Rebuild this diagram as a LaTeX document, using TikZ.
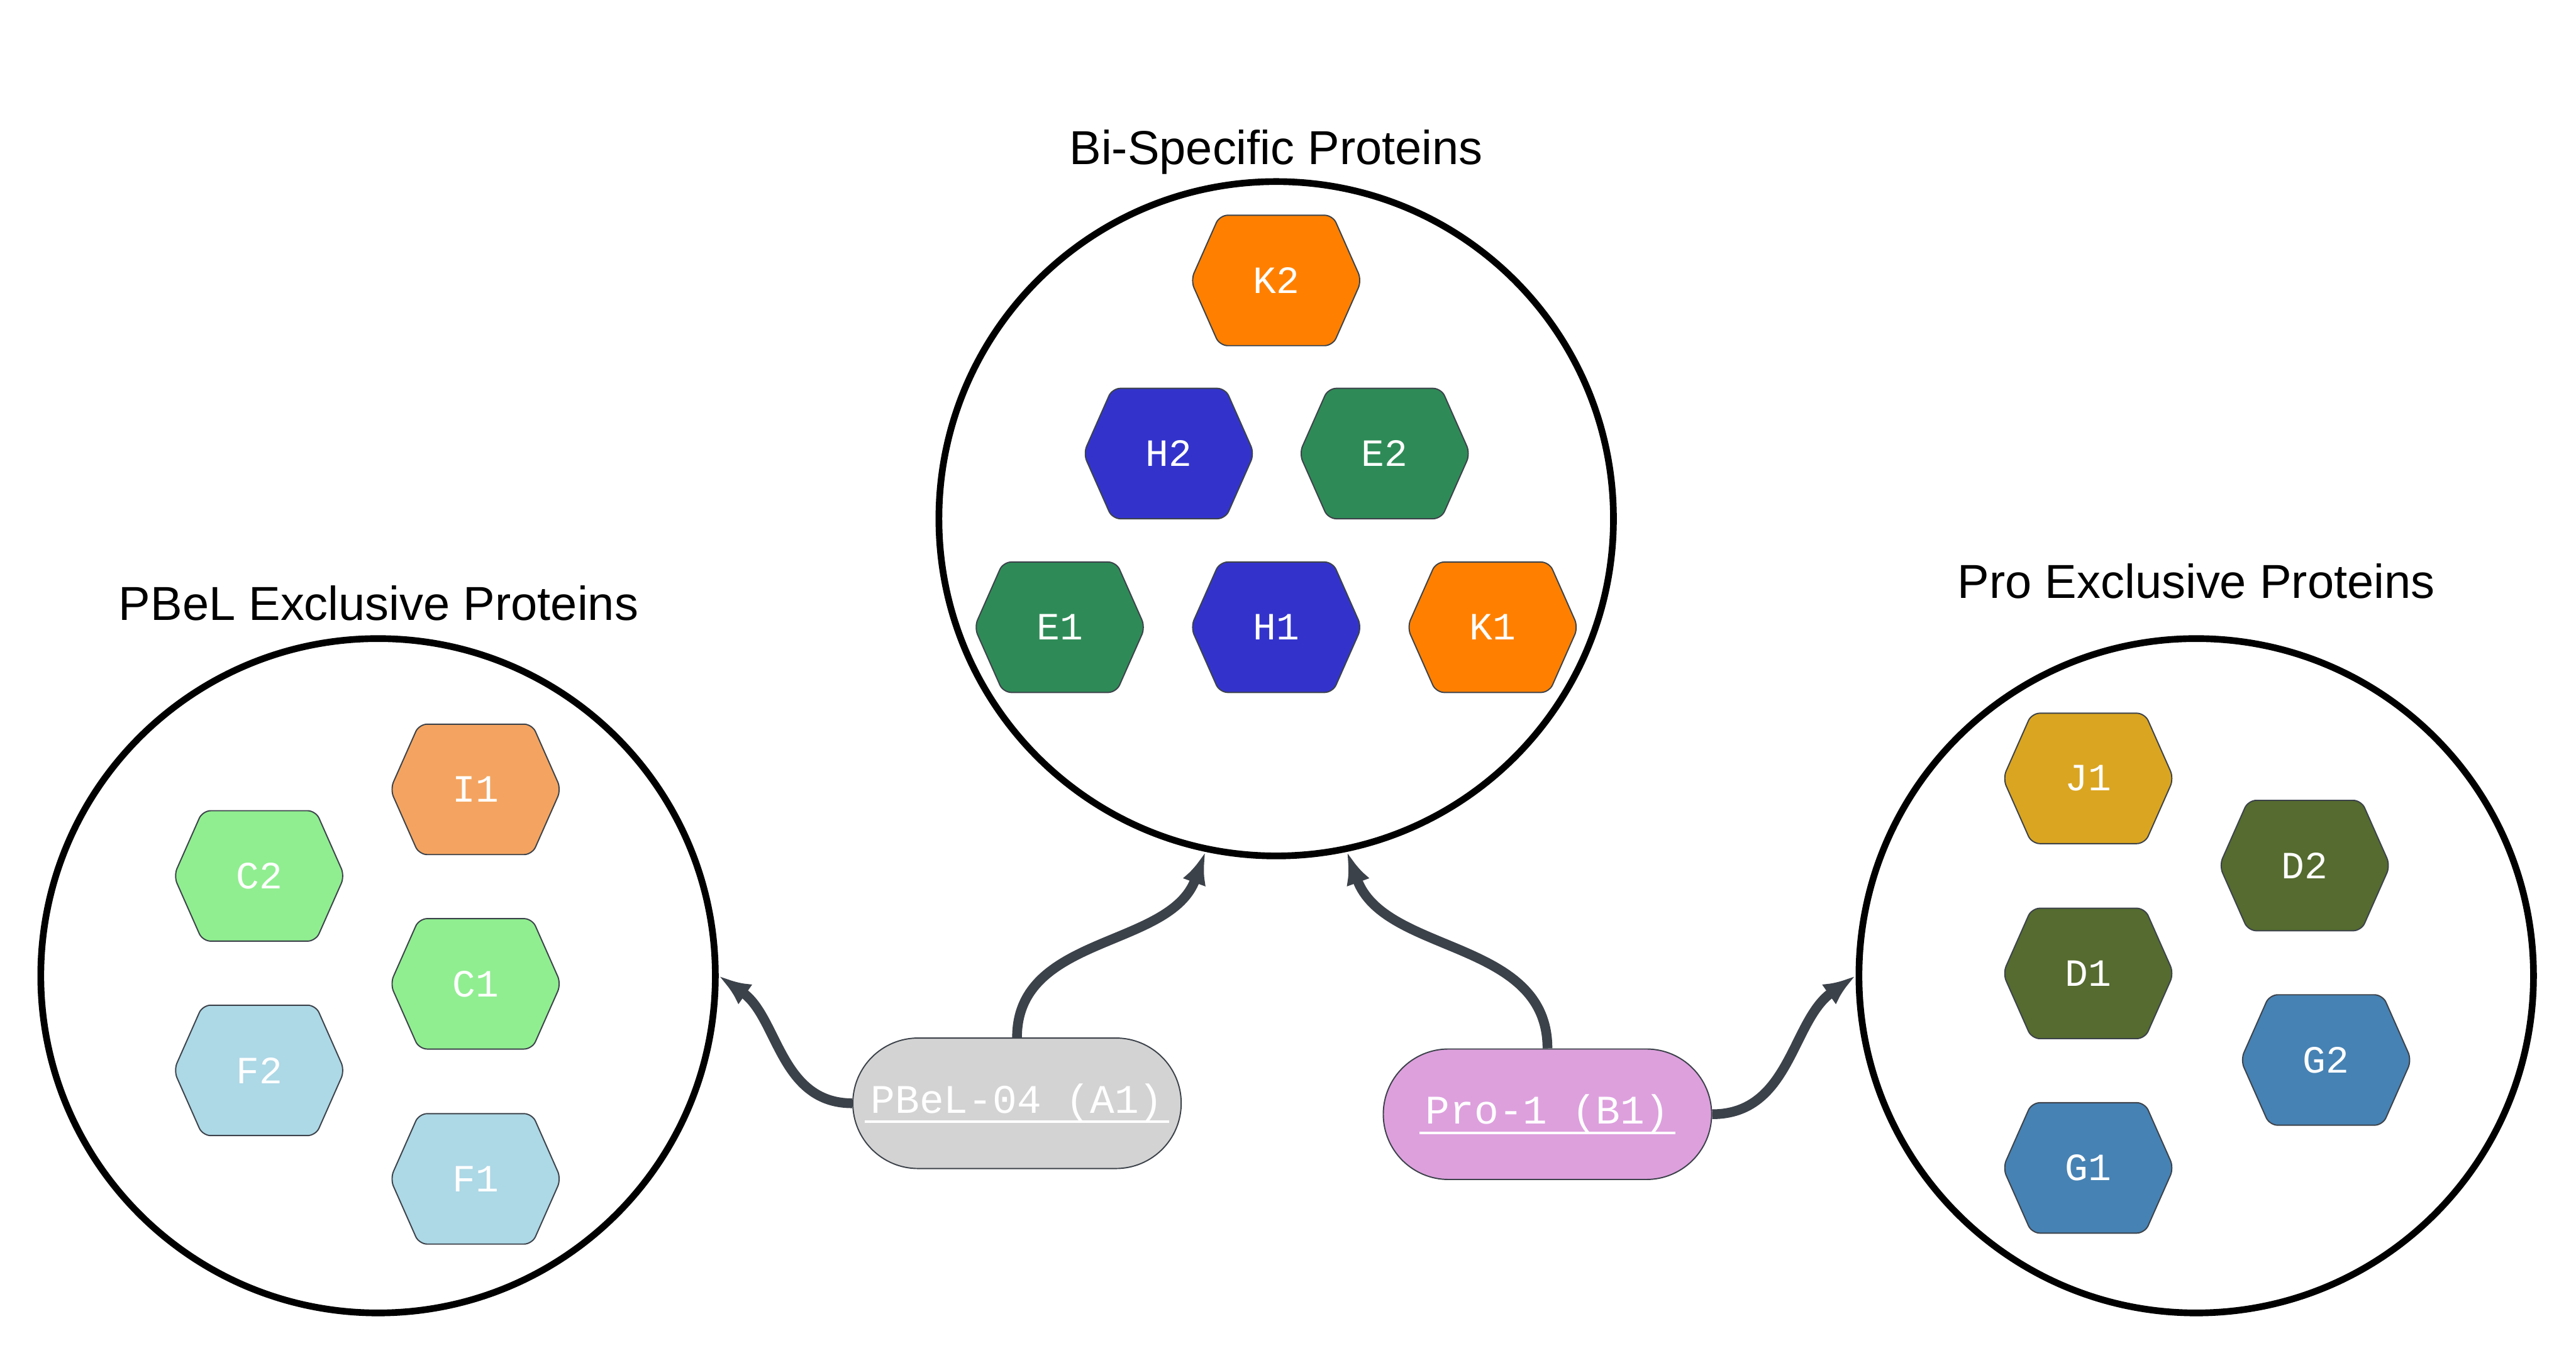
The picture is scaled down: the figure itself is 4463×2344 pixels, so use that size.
\documentclass[tikz,border=0pt]{standalone}
\usepackage{fontspec}
\setmainfont{Liberation Sans}
\newfontfamily\monofont{Liberation Mono}
\usetikzlibrary{arrows.meta,shapes.misc}
\definecolor{edgegray}{HTML}{3C424A}
\definecolor{hexline}{HTML}{3C424A}
\definecolor{korange}{HTML}{FF8000}
\definecolor{hblue}{HTML}{3333CC}
\definecolor{egreen}{HTML}{2E8B57}
\definecolor{isandy}{HTML}{F4A460}
\definecolor{clight}{HTML}{90EE90}
\definecolor{fblue}{HTML}{ADD8E6}
\definecolor{jgold}{HTML}{DAA520}
\definecolor{dolive}{HTML}{556B2F}
\definecolor{gsteel}{HTML}{4682B4}
\definecolor{pillgray}{HTML}{D3D3D3}
\definecolor{pillplum}{HTML}{DDA0DD}
\def\Hexa[name=#1,fill=#2](#3)#4{%
  \filldraw[hexa,fill=#2] (#3) ++(-148,0) -- ++(50,-113) -- ++(196,0) --
    ++(50,113) -- ++(-50,113) -- ++(-196,0) -- cycle;
  \node[hexlabel] (#1) at (#3) {#4};}
\def\Uline#1{\setbox0\hbox{#1}\rlap{\kern-3pt\rule[-5pt]{\dimexpr\wd0+6pt\relax}{1.3pt}}\box0}

\begin{document}
\begin{tikzpicture}[x=0.01cm,y=-0.01cm]
	\tikzstyle{hexa}=[draw=hexline,line width=0.6pt,rounded corners=0.14cm];
	\tikzstyle{hexlabel}=[text=white,font=\monofont\fontsize{19}{19}\selectfont,inner sep=0pt];
	\tikzstyle{group}=[draw,circle,line width=3.3pt,minimum size=11.68cm,inner sep=0pt];
	\tikzstyle{title}=[font=\fontsize{23.5}{23.5}\selectfont,inner sep=0pt];
	\tikzstyle{pill}=[draw=hexline,line width=0.6pt,rounded rectangle,minimum width=5.92cm,
		minimum height=2.26cm,text=white,font=\monofont\fontsize{20}{20}\selectfont];
	\tikzstyle{link}=[draw=edgegray,line width=4.8pt,-{Latex[length=16pt,width=12pt]}];
	\useasboundingbox (0,0) rectangle (4463,2344);
	%% groups
	\node[group] (pbelc) at (655,1691) {};
	\node[group] (bic) at (2211,899) {};
	\node[group] (proc) at (3805,1691) {};
	%% titles
	\node[title] (pbelt) at (656,1045) {PBeL Exclusive Proteins};
	\node[title] (bit) at (2211,264) {Bi-Specific Proteins};
	\node[title] (prot) at (3805,1007) {Pro Exclusive Proteins};
	%% bi-specific
	\Hexa[name=K2,fill=korange](2211,486){K2}
	\Hexa[name=H2,fill=hblue](2025,786){H2}
	\Hexa[name=E2,fill=egreen](2399,786){E2}
	\Hexa[name=E1,fill=egreen](1836,1087){E1}
	\Hexa[name=H1,fill=hblue](2211,1087){H1}
	\Hexa[name=K1,fill=korange](2586,1087){K1}
	%% PBeL exclusive
	\Hexa[name=I1,fill=isandy](824,1368){I1}
	\Hexa[name=C2,fill=clight](449,1518){C2}
	\Hexa[name=C1,fill=clight](824,1705){C1}
	\Hexa[name=F2,fill=fblue](449,1855){F2}
	\Hexa[name=F1,fill=fblue](824,2043){F1}
	%% Pro exclusive
	\Hexa[name=J1,fill=jgold](3618,1349){J1}
	\Hexa[name=D2,fill=dolive](3993,1500){D2}
	\Hexa[name=D1,fill=dolive](3618,1687){D1}
	\Hexa[name=G2,fill=gsteel](4030,1837){G2}
	\Hexa[name=G1,fill=gsteel](3618,2024){G1}
	%% sources
	\node[pill,fill=pillgray] (pbel) at (1762,1912) {\Uline{PBeL-04 (A1)}};
	\node[pill,fill=pillplum] (pro) at (2681,1931) {\Uline{Pro-1 (B1)}};
	%% links
	\draw[link] (pbel.west) to[out=180,in=-35] (pbelc.east);
	\draw[link] (pbel.north) to[out=90,in=-110] (bic.258);
	\draw[link] (pro.north) to[out=90,in=-70] (bic.282);
	\draw[link] (pro.east) to[out=0,in=-145] (proc.west);
\end{tikzpicture}
\end{document}
